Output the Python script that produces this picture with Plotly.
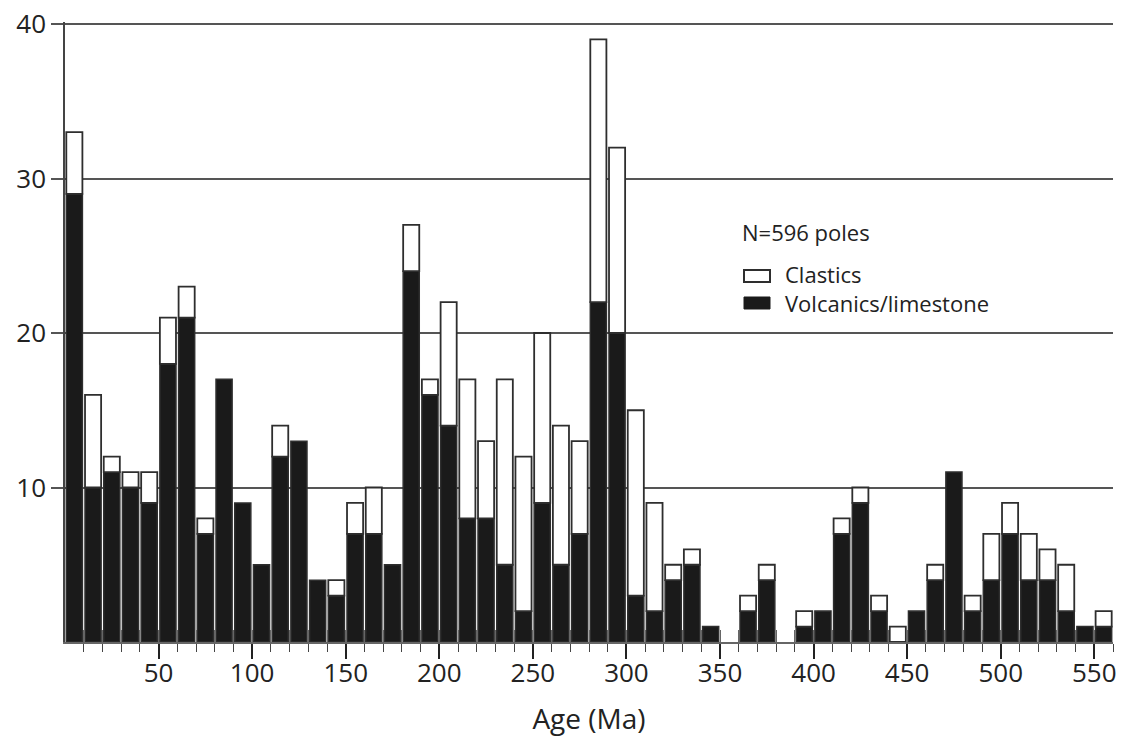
import plotly.graph_objects as go

# Age bins (Ma), 10 Ma wide, bin centres
age_bins = [5 + 10 * i for i in range(56)]

# Counts of poles per bin
volcanics = [29, 10, 11, 10, 9, 18, 21, 7, 17, 9,
             5, 12, 13, 4, 3, 7, 7, 5, 24, 16,
             14, 8, 8, 5, 2, 9, 5, 7, 22, 20,
             3, 2, 4, 5, 1, 0, 2, 4, 0, 1,
             2, 7, 9, 2, 0, 2, 4, 11, 2, 4,
             7, 4, 4, 2, 1, 1]
clastics = [4, 6, 1, 1, 2, 3, 2, 1, 0, 0,
            0, 2, 0, 0, 1, 2, 3, 0, 3, 1,
            8, 9, 5, 12, 10, 11, 9, 6, 17, 12,
            12, 7, 1, 1, 0, 0, 1, 1, 0, 1,
            0, 1, 1, 1, 1, 0, 1, 0, 1, 3,
            2, 3, 2, 3, 0, 1]

x_tick_vals = [50, 100, 150, 200, 250, 300, 350, 400, 450, 500, 550]
x_tick_text = [str(v) for v in x_tick_vals]
y_tick_vals = [10, 20, 30, 40]
minor_ticks = list(range(10, 561, 10))

legend_title = "N=596 poles"
series_names = ["Clastics", "Volcanics/limestone"]

FONT = "Open Sans"
INK = "#1a1a1a"
EDGE = "#2e2e2e"
GRID = "#555555"
TEXT = "#222222"

# the page body has an 8px margin, so the figure is sized to fit inside it
OFF = 8
W, H = 1126 - 2 * OFF, 745 - 2 * OFF
L, T = 65 - OFF, 22 - OFF
R = W - (1113 - OFF)
B = H - (642 - OFF)
PW, PH = W - L - R, H - T - B
Y_TOP = 40 * PH / 618.0   # keeps 40 at page y=24 and leaves room for the top grid line


def px_x(px):
    """page pixel x -> paper coordinate"""
    return (px - OFF - L) / PW


def px_y(py):
    """page pixel y -> paper coordinate"""
    return (H - B - (py - OFF)) / PH


def nz(vals):
    return [v if v else None for v in vals]


fig = go.Figure()
fig.add_trace(go.Bar(
    x=age_bins, y=nz(volcanics), name=series_names[1],
    marker=dict(color=INK, line=dict(color=EDGE, width=1.5)),
))
fig.add_trace(go.Bar(
    x=age_bins, y=nz(clastics), name=series_names[0],
    base=volcanics,
    marker=dict(color="white", line=dict(color=EDGE, width=1.8)),
))
# helper trace that activates the overlaid axis carrying the inside ticks
fig.add_trace(go.Scatter(x=[None], y=[None], xaxis="x2", showlegend=False,
                         hoverinfo="skip"))

# legend drawn as text + key boxes
legend_font = dict(size=22, family=FONT, color=TEXT)
annotations = [
    dict(text=legend_title, x=px_x(740), y=px_y(232)),
    dict(text=series_names[0], x=px_x(783), y=px_y(274)),
    dict(text=series_names[1], x=px_x(783), y=px_y(303)),
]
annotations = [dict(a, xref="paper", yref="paper", xanchor="left",
                    yanchor="middle", showarrow=False, font=legend_font)
               for a in annotations]
shapes = [
    dict(type="rect", xref="paper", yref="paper",
         x0=px_x(744), x1=px_x(770), y0=px_y(282), y1=px_y(270),
         fillcolor="white", line=dict(color=EDGE, width=2)),
    dict(type="rect", xref="paper", yref="paper",
         x0=px_x(744), x1=px_x(770), y0=px_y(309), y1=px_y(297),
         fillcolor=INK, line=dict(color=INK, width=1)),
]

fig.update_layout(
    barmode="overlay",
    bargap=0.14,
    width=W, height=H,
    margin=dict(l=L, r=R, t=T, b=B),
    paper_bgcolor="white",
    plot_bgcolor="white",
    font=dict(family=FONT, color=TEXT),
    showlegend=False,
    annotations=annotations,
    shapes=shapes,
    xaxis=dict(
        range=[0, 560], automargin=False,
        tickmode="array", tickvals=x_tick_vals, ticktext=x_tick_text,
        ticks="outside", ticklen=15, tickwidth=2, tickcolor=TEXT,
        minor=dict(tickmode="array", tickvals=minor_ticks, ticks="outside",
                   ticklen=8, tickwidth=1.2, tickcolor="#444"),
        showline=True, linecolor="#666", linewidth=2,
        showgrid=False, zeroline=False,
        tickfont=dict(size=26, family=FONT, color=TEXT),
        ticklabelstandoff=-8,
        ticklabeloverflow="allow",
        title=dict(text="Age (Ma)", font=dict(size=28, family=FONT, color=TEXT),
                   standoff=20),
    ),
    xaxis2=dict(
        range=[0, 560], overlaying="x", anchor="y", side="bottom",
        tickmode="array", tickvals=minor_ticks, automargin=False,
        ticks="inside", ticklen=12, tickwidth=1.2, tickcolor="#666",
        showticklabels=False, showgrid=False, zeroline=False, showline=False,
    ),
    yaxis=dict(
        range=[0, Y_TOP], automargin=False,
        tickmode="array", tickvals=y_tick_vals,
        ticks="outside", ticklen=12, tickwidth=1.5, tickcolor=GRID,
        showgrid=True, gridcolor=GRID, gridwidth=1.5,
        showline=True, linecolor="#444", linewidth=1.5,
        zeroline=False,
        ticklabeloverflow="allow",
        tickfont=dict(size=26, family=FONT, color=TEXT),
    ),
)

fig.write_html("out.html")
